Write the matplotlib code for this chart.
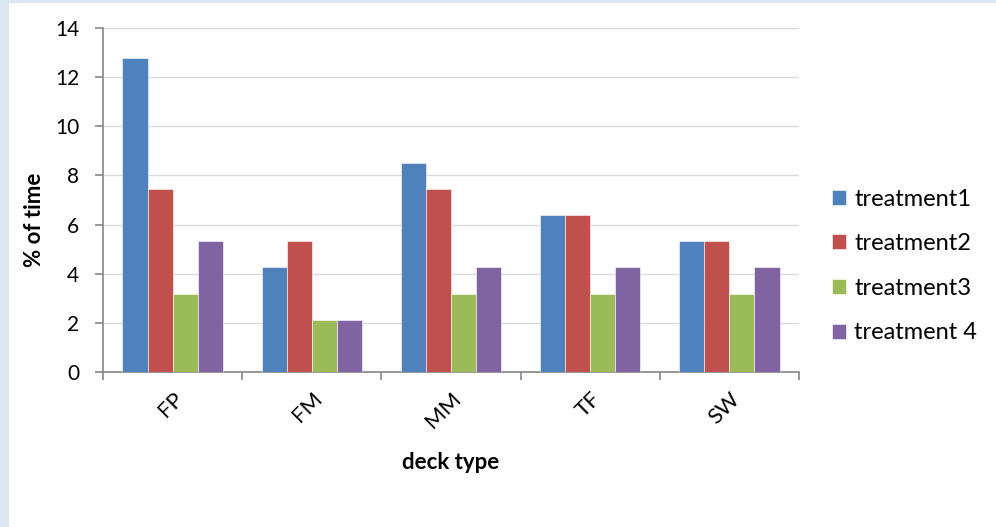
import matplotlib
matplotlib.use("Agg")
import matplotlib.patches
import matplotlib.pyplot as plt
import numpy as np

categories = ["FP", "FM", "MM", "TF", "SW"]
series_names = ["treatment1", "treatment2", "treatment3", "treatment 4"]
treatment1 = [12.77, 4.26, 8.51, 6.38, 5.32]
treatment2 = [7.45, 5.32, 7.45, 6.38, 5.32]
treatment3 = [3.19, 2.13, 3.19, 3.19, 3.19]
treatment4 = [5.32, 2.13, 4.26, 4.26, 4.26]
yticks = [0, 2, 4, 6, 8, 10, 12, 14]

colors = ["#4f81bd", "#c0504d", "#9bbb59", "#8064a2"]
axis_grey = "#868686"

plt.rcParams["font.family"] = ["Lato", "DejaVu Sans"]
plt.rcParams["font.size"] = 15

fig = plt.figure(figsize=(9.96, 5.27), dpi=100)
fig.patch.set_facecolor("#dce6f2")
# white chart area inside the light-blue frame
fig.patches.append(
    matplotlib.patches.Rectangle(
        (9 / 996, 0), 1, 1 - 3 / 527, transform=fig.transFigure,
        facecolor="white", edgecolor="none", zorder=-10
    )
)

ax = fig.add_axes([103 / 996, 155 / 527, 696 / 996, 344 / 527])
ax.set_facecolor("white")

x = np.arange(len(categories))
width = 0.18
for i, vals in enumerate([treatment1, treatment2, treatment3, treatment4]):
    ax.bar(
        x + (i - 1.5) * width, vals, width,
        color=colors[i], label=series_names[i], zorder=3,
        edgecolor="white", linewidth=0.4,
    )

ax.set_xlim(-0.5, len(categories) - 0.5)
ax.set_ylim(0, 14)
ax.set_yticks(yticks)
ax.yaxis.grid(True, color="#d9d9d9", linewidth=1.0, zorder=0)
ax.set_axisbelow(True)

ax.set_xticks(np.arange(len(categories) + 1) - 0.5)
ax.set_xticklabels([])
ax.set_xticks(x, minor=True)
ax.set_xticklabels(categories, minor=True, rotation=45, ha="right", va="top",
                   rotation_mode="anchor", fontsize=16)
ax.tick_params(axis="x", which="minor", length=0, pad=12)
ax.tick_params(axis="x", which="major", length=6, color=axis_grey, width=1.2)
ax.tick_params(axis="y", length=6, color=axis_grey, width=1.2, pad=11)

for side in ["top", "right"]:
    ax.spines[side].set_visible(False)
for side in ["left", "bottom"]:
    ax.spines[side].set_color(axis_grey)
    ax.spines[side].set_linewidth(1.2)

ax.set_ylabel("% of time", fontweight="bold", fontsize=16)
ax.yaxis.set_label_coords(-0.083, 0.442)
ax.set_xlabel("deck type", fontweight="bold", fontsize=16)
ax.xaxis.set_label_coords(0.5, -0.233)

fig.legend(
    loc="center left", bbox_to_anchor=(832 / 996, 1 - 266 / 527),
    frameon=False, borderpad=0, handlelength=0.6, handleheight=0.6,
    handletextpad=0.35, labelspacing=1.0, borderaxespad=0, fontsize=17,
)

fig.savefig("out.png", dpi=100, facecolor=fig.get_facecolor())
